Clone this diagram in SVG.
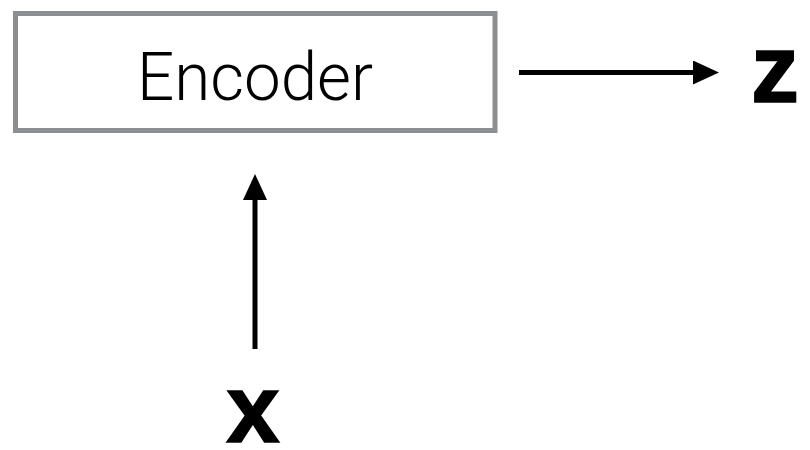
<svg xmlns="http://www.w3.org/2000/svg" width="810" height="450" viewBox="0 0 810 450">
  <defs>
    <style>
      .box { fill: #ffffff; stroke: #8c8e92; stroke-width: 5; }
      .label { font-family: Roboto, "Liberation Sans", sans-serif; font-weight: 300; font-size: 67px; fill: #000000; }
      .var { font-family: "Liberation Sans", Arial, sans-serif; font-weight: bold; font-size: 96px; fill: #000000; stroke: #000000; stroke-width: 1.5; }
      .edge { stroke: #000000; stroke-width: 5; fill: none; }
    </style>
    <marker id="arrow" markerUnits="userSpaceOnUse" markerWidth="27" markerHeight="25" refX="1" refY="12" orient="auto">
      <path d="M0,0 L26,12 L0,24 Z" fill="#000000"/>
    </marker>
  </defs>
  <rect width="810" height="450" fill="#ffffff"/>
  <g id="encoder">
    <rect class="box" x="15.5" y="13.5" width="479.5" height="117"/>
    <text class="label" x="255" y="99.5" text-anchor="middle" textLength="236" lengthAdjust="spacingAndGlyphs">Encoder</text>
  </g>
  <g id="z">
    <text class="var" x="775" y="101.5" text-anchor="middle">z</text>
  </g>
  <g id="x">
    <text class="var" x="253" y="441.5" text-anchor="middle">x</text>
  </g>
  <g id="connectors">
    <line class="edge" x1="519" y1="72.5" x2="694" y2="72.5" marker-end="url(#arrow)"/>
    <line class="edge" x1="255" y1="349" x2="255" y2="199" marker-end="url(#arrow)"/>
  </g>
</svg>
